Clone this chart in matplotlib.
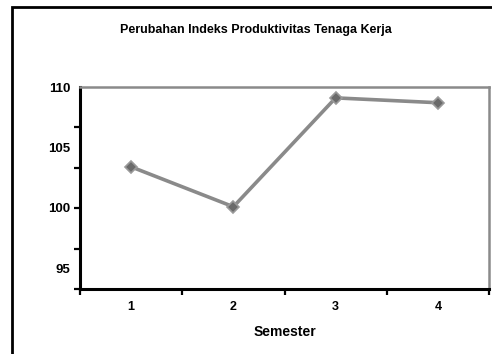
import matplotlib
matplotlib.use("Agg")
import matplotlib.pyplot as plt
from matplotlib.patches import Rectangle
from matplotlib.ticker import FixedLocator

# semester index values
semesters = [1, 2, 3, 4]
semester_labels = ["1", "2", "3", "4"]
index_values = [103.4, 100.1, 109.1, 108.7]
y_ticks = [95, 100, 105, 110]

plt.rcParams['font.family'] = ['Liberation Sans', 'DejaVu Sans']
plt.rcParams['font.weight'] = 'bold'

fig = plt.figure(figsize=(4.92, 3.54), dpi=100)

# outer chart frame
fig.patches.append(Rectangle((12 / 492, -0.05), 1.0, 1.05 - 7 / 354,
                             transform=fig.transFigure, fill=False,
                             edgecolor='black', linewidth=2.0))

ax = fig.add_axes([80 / 492, 1 - 289 / 354, 409 / 492, 202 / 354])

ax.plot(semesters, index_values, '-', color='#8a8a8a', linewidth=2.6, zorder=2)
ax.plot(semesters, index_values, 'D', markersize=6.5, markerfacecolor='#6a6a6a',
        markeredgecolor='#9a9a9a', markeredgewidth=1.2, zorder=3)

ax.set_xlim(0.5, 4.5)
ax.set_ylim(93.3, 110)

ax.set_xticks(semesters)
ax.set_xticklabels(semester_labels, fontsize=9, fontweight='bold')
ax.xaxis.set_minor_locator(FixedLocator([0.5, 1.5, 2.5, 3.5, 4.5]))
ax.tick_params(axis='x', which='major', length=0, pad=9)
ax.tick_params(axis='x', which='minor', length=4, width=1.6, direction='out')

ax.set_yticks(y_ticks)
ax.set_yticklabels([str(v) for v in y_ticks], fontsize=9.5, fontweight='bold')
lo, hi = ax.get_ylim()
ax.yaxis.set_minor_locator(FixedLocator([lo + i * (hi - lo) / 5 for i in range(6)]))
ax.tick_params(axis='y', which='major', length=0, pad=7)
ax.tick_params(axis='y', which='minor', length=4, width=1.6, direction='out')

for side in ['left', 'bottom']:
    ax.spines[side].set_color('black')
    ax.spines[side].set_linewidth(2.2)
for side in ['top', 'right']:
    ax.spines[side].set_color('#8a8a8a')
    ax.spines[side].set_linewidth(1.8)

ax.set_xlabel('Semester', fontsize=10, fontweight='bold', labelpad=8)
fig.text(256 / 492, 1 - 30 / 354, 'Perubahan Indeks Produktivitas Tenaga Kerja',
         ha='center', va='center', fontsize=9, fontweight='bold')

fig.savefig('out.png', dpi=100)
